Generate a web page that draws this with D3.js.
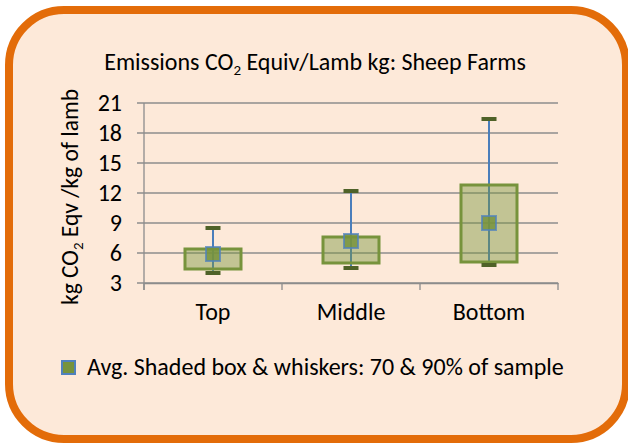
<!DOCTYPE html>
<html>
<head>
<meta charset="utf-8">
<script src="https://cdn.jsdelivr.net/npm/d3@7"></script>
<style>
  body { margin: 0; background: #ffffff; }
  svg { display: block; }
  text { font-family: Carlito, Calibri, Lato, "Noto Sans", sans-serif; fill: #000; }
</style>
</head>
<body>
<div id="chart"></div>
<script>
// data
var categories = ["Top", "Middle", "Bottom"];
var avgValues = [5.9, 7.2, 9.0];
var boxLow = [4.4, 5.0, 5.1];     // 70% of sample
var boxHigh = [6.4, 7.6, 12.8];
var whiskerLow = [4.0, 4.5, 4.8]; // 90% of sample
var whiskerHigh = [8.5, 12.2, 19.4];
var yTicks = [3, 6, 9, 12, 15, 18, 21];

var width = 628, height = 445;
var plot = { left: 144, right: 558, top: 103, bottom: 283 };

var svg = d3.select("#chart").append("svg")
    .attr("width", width)
    .attr("height", height);

// orange rounded frame
svg.append("rect")
    .attr("x", 9).attr("y", 10)
    .attr("width", 617).attr("height", 429)
    .attr("rx", 55).attr("ry", 55)
    .attr("fill", "#FDE9D9")
    .attr("stroke", "#E36C09")
    .attr("stroke-width", 8);

var x = d3.scaleBand().domain(categories).range([plot.left, plot.right]).padding(0);
var y = d3.scaleLinear().domain([3, 21]).range([plot.bottom, plot.top]);

var rows = categories.map(function (c, i) {
    return { cat: c, avg: avgValues[i], lo: boxLow[i], hi: boxHigh[i], wlo: whiskerLow[i], whi: whiskerHigh[i] };
});

// gridlines
svg.append("g").selectAll("line").data(yTicks).enter().append("line")
    .attr("x1", plot.left - 7).attr("x2", plot.right)
    .attr("y1", d => y(d)).attr("y2", d => y(d))
    .attr("stroke", "#8C8C8C").attr("stroke-width", 1.3);

// y axis labels
var yAxis = d3.axisLeft(y).tickValues(yTicks).tickSize(0).tickPadding(22);
svg.append("g")
    .attr("transform", "translate(" + plot.left + ",0)")
    .call(yAxis)
    .call(g => g.select(".domain").remove())
    .selectAll("text")
    .attr("font-size", 24)
    .attr("dy", "0.31em")
    .attr("font-family", null);

svg.append("line")
    .attr("x1", plot.left).attr("x2", plot.left)
    .attr("y1", plot.top).attr("y2", plot.bottom + 7)
    .attr("stroke", "#8C8C8C").attr("stroke-width", 1.3);

// x axis
var xAxis = d3.axisBottom(x).tickSize(0).tickPadding(0);
var xg = svg.append("g")
    .attr("transform", "translate(0," + plot.bottom + ")")
    .call(xAxis);
xg.select(".domain").attr("stroke", "#8C8C8C").attr("stroke-width", 1.3);
xg.selectAll("text").attr("font-size", 24).attr("font-family", null)
    .attr("y", 37).attr("dy", null);
var edges = categories.map(c => x(c)).concat([plot.right]);
svg.append("g").selectAll("line").data(edges).enter().append("line")
    .attr("x1", d => d).attr("x2", d => d)
    .attr("y1", plot.bottom).attr("y2", plot.bottom + 7)
    .attr("stroke", "#8C8C8C").attr("stroke-width", 1.3);

var boxW = 56, capW = 15, capH = 4, markS = 14;
var marks = svg.append("g").selectAll("g").data(rows).enter().append("g")
    .attr("transform", d => "translate(" + (x(d.cat) + x.bandwidth() / 2) + ",0)");

// whisker line
marks.append("line")
    .attr("x1", 0).attr("x2", 0)
    .attr("y1", d => y(d.whi)).attr("y2", d => y(d.wlo))
    .attr("stroke", "#4A7EBB").attr("stroke-width", 2);

// shaded box
marks.append("rect")
    .attr("x", -boxW / 2).attr("width", boxW)
    .attr("y", d => y(d.hi)).attr("height", d => y(d.lo) - y(d.hi))
    .attr("fill", "#77933C").attr("fill-opacity", 0.44)
    .attr("stroke", "#77933C").attr("stroke-width", 3);

// caps
marks.append("rect")
    .attr("x", -capW / 2).attr("width", capW)
    .attr("y", d => y(d.whi) - capH / 2).attr("height", capH)
    .attr("fill", "#4F6228");
marks.append("rect")
    .attr("x", -capW / 2).attr("width", capW)
    .attr("y", d => y(d.wlo) - capH / 2).attr("height", capH)
    .attr("fill", "#4F6228");

// average marker
marks.append("rect")
    .attr("x", -markS / 2).attr("width", markS)
    .attr("y", d => y(d.avg) - markS / 2).attr("height", markS)
    .attr("fill", "#77933C").attr("fill-opacity", 0.85)
    .attr("stroke", "#4F81BD").attr("stroke-opacity", 0.75).attr("stroke-width", 2);

// title
var title = svg.append("text")
    .attr("x", 315).attr("y", 70)
    .attr("text-anchor", "middle")
    .attr("font-size", 24);
title.append("tspan").text("Emissions CO");
title.append("tspan").attr("font-size", 15).attr("dy", 5).text("2");
title.append("tspan").attr("dy", -5).text(" Equiv/Lamb kg: Sheep Farms");

// y axis title
var ylab = svg.append("text")
    .attr("transform", "translate(78,197) rotate(-90)")
    .attr("text-anchor", "middle")
    .attr("font-size", 23.5);
ylab.append("tspan").text("kg CO");
ylab.append("tspan").attr("font-size", 15).attr("dy", 5).text("2");
ylab.append("tspan").attr("dy", -5).text(" Eqv /kg of lamb");

// legend
svg.append("rect")
    .attr("x", 62).attr("y", 361).attr("width", 13).attr("height", 13)
    .attr("fill", "#77933C")
    .attr("stroke", "#4F81BD").attr("stroke-width", 2);
svg.append("text")
    .attr("x", 87).attr("y", 375)
    .attr("font-size", 24)
    .text("Avg. Shaded box & whiskers: 70 & 90% of sample");
</script>
</body>
</html>
